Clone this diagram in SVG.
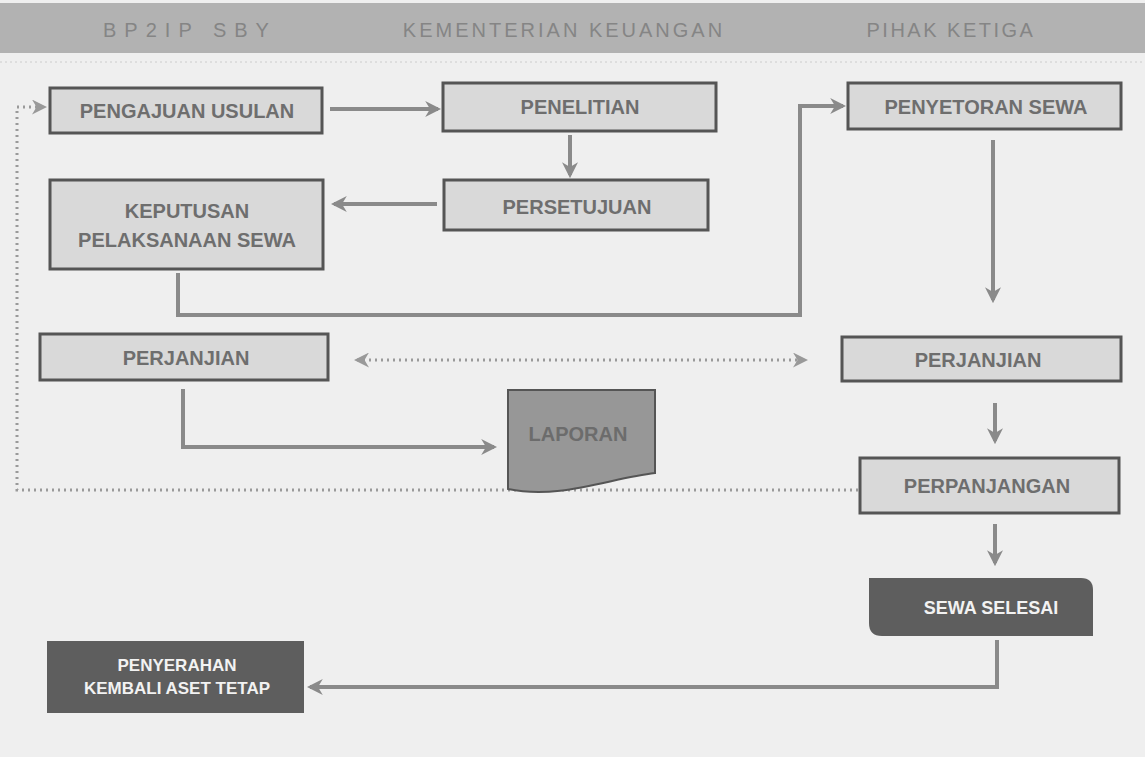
<svg xmlns="http://www.w3.org/2000/svg" width="1145" height="757" viewBox="0 0 1145 757">
<defs>
<style>
.box{fill:#d9d9d9;stroke:#555;stroke-width:3}
.lbl{font-family:"Liberation Sans",Arial,sans-serif;font-weight:bold;font-size:20px;fill:#6e6e6e;text-anchor:middle}
.wlbl{font-family:"Liberation Sans",Arial,sans-serif;font-weight:bold;font-size:17px;fill:#f2f2f2;text-anchor:middle}
.hdr{font-family:"Liberation Sans",Arial,sans-serif;font-size:20px;fill:#858585;text-anchor:middle}
.con{fill:none;stroke:#8a8a8a;stroke-width:4}
.dot{fill:none;stroke:#9a9a9a;stroke-width:3;stroke-dasharray:2 4}
</style>
<marker id="ah" viewBox="0 0 10 10" refX="8" refY="5" markerWidth="4" markerHeight="4" orient="auto-start-reverse">
<path d="M0,0 L10,5 L0,10 L3,5 Z" fill="#8a8a8a"/>
</marker>
<marker id="ahd" viewBox="0 0 10 10" refX="8" refY="5" markerWidth="5" markerHeight="5" orient="auto-start-reverse">
<path d="M0,0 L10,5 L0,10 L3,5 Z" fill="#999"/>
</marker>
</defs>
<rect width="1145" height="757" fill="#efefef"/>
<g id="header">
<rect x="0" y="3" width="1145" height="50" fill="#b2b2b2"/>
<text class="hdr" x="190" y="37" letter-spacing="8">BP2IP SBY</text>
<text class="hdr" x="564" y="37" letter-spacing="3">KEMENTERIAN KEUANGAN</text>
<text class="hdr" x="951" y="37" letter-spacing="2.5">PIHAK KETIGA</text>
<line x1="0" y1="62" x2="1145" y2="62" stroke="#ccc" stroke-width="1" stroke-dasharray="2 3"/>
</g>
<g id="connectors">
<path class="con" d="M330,109 H438" marker-end="url(#ah)"/>
<path class="con" d="M570,135 V175" marker-end="url(#ah)"/>
<path class="con" d="M437,204 H334" marker-end="url(#ah)"/>
<path class="con" d="M178,273 V315 H800 V106 H843" marker-end="url(#ah)"/>
<path class="con" d="M993,140 V300" marker-end="url(#ah)"/>
<path class="dot" d="M357,360 H805" marker-start="url(#ahd)" marker-end="url(#ahd)"/>
<path class="con" d="M183,389 V447 H494" marker-end="url(#ah)"/>
<path class="con" d="M995,403 V441" marker-end="url(#ah)"/>
<path class="con" d="M995,524 V563" marker-end="url(#ah)"/>
<path class="con" d="M997,640 V687 H310" marker-end="url(#ah)"/>
<path class="dot" d="M858,490 H17 V107 H44" marker-end="url(#ahd)"/>
</g>
<g id="pengajuan">
<rect class="box" x="50" y="88" width="272" height="45"/>
<text class="lbl" x="187" y="118">PENGAJUAN USULAN</text>
</g>
<g id="penelitian">
<rect class="box" x="443" y="83" width="273" height="48"/>
<text class="lbl" x="580" y="114">PENELITIAN</text>
</g>
<g id="persetujuan">
<rect class="box" x="444" y="180" width="264" height="50"/>
<text class="lbl" x="577" y="214">PERSETUJUAN</text>
</g>
<g id="keputusan">
<rect class="box" x="50" y="180" width="273" height="89"/>
<text class="lbl" x="187" y="218">KEPUTUSAN</text>
<text class="lbl" x="187" y="247">PELAKSANAAN SEWA</text>
</g>
<g id="penyetoran">
<rect class="box" x="848" y="83" width="273" height="46"/>
<text class="lbl" x="986" y="114">PENYETORAN SEWA</text>
</g>
<g id="perjanjian-kiri">
<rect class="box" x="40" y="334" width="288" height="46"/>
<text class="lbl" x="186" y="365">PERJANJIAN</text>
</g>
<g id="perjanjian-kanan">
<rect class="box" x="842" y="337" width="279" height="44"/>
<text class="lbl" x="978" y="367">PERJANJIAN</text>
</g>
<g id="laporan">
<path d="M508,390 H655 V473 C610,478 560,500 508,489 Z" fill="#979797" stroke="#555" stroke-width="2"/>
<text class="lbl" x="578" y="441" style="fill:#6c6c6c">LAPORAN</text>
</g>
<g id="perpanjangan">
<rect class="box" x="860" y="458" width="259" height="55"/>
<text class="lbl" x="987" y="493">PERPANJANGAN</text>
</g>
<g id="sewa-selesai">
<path d="M869,578 H1081 Q1093,578 1093,590 V636 H882 Q869,636 869,623 Z" fill="#5e5e5e"/>
<text class="wlbl" x="991" y="614" style="font-size:18px">SEWA SELESAI</text>
</g>
<g id="penyerahan">
<rect x="47" y="641" width="257" height="72" fill="#5e5e5e"/>
<text class="wlbl" x="177" y="671">PENYERAHAN</text>
<text class="wlbl" x="177" y="694">KEMBALI ASET TETAP</text>
</g>
</svg>
